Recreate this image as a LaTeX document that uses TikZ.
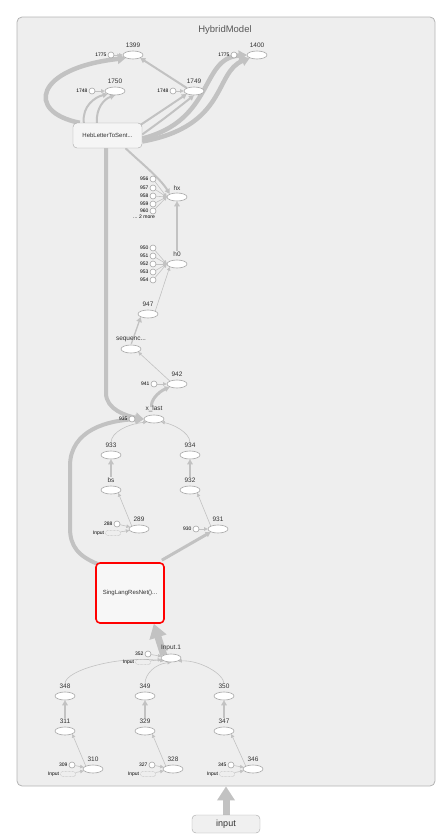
\documentclass[tikz,border=0pt]{standalone}
\usepackage{fontspec}
\setmainfont{Liberation Sans}
\usetikzlibrary{shapes.geometric,arrows.meta}
\pgfdeclarelayer{back}
\pgfdeclarelayer{edges}
\pgfsetlayers{back,edges,main}
\definecolor{grpfill}{HTML}{EEEEEE}
\definecolor{grpline}{HTML}{B4B4B4}
\definecolor{edgec}{HTML}{C2C2C2}
\definecolor{opline}{HTML}{A6A6A6}
\definecolor{txt}{HTML}{333333}
\tikzset{
  op/.style={ellipse,draw=opline,fill=white,line width=0.6pt,minimum width=20pt,minimum height=8pt,inner sep=0pt},
  lab/.style={font=\fontsize{6.5}{7}\selectfont,text=txt,inner sep=1pt,label distance=1.5pt},
  cst/.style={circle,draw=opline,fill=white,line width=0.6pt,minimum size=6pt,inner sep=0pt},
  clab/.style={font=\fontsize{5}{6}\selectfont,text=black,inner sep=1pt},
  refbox/.style={draw=opline,densely dotted,rounded corners=1.5pt,minimum width=15pt,minimum height=5pt,inner sep=0pt},
  meta/.style={draw=opline,fill=#1,rounded corners=4pt,font=\fontsize{6}{7}\selectfont,text=txt,inner sep=0pt},
  ed/.style={draw=edgec,line width=0.6pt,-{Triangle[length=3.5pt,width=3.5pt]}},
  med/.style={draw=edgec,line width=2pt,-{Triangle[length=5pt,width=5.5pt]}},
  thk/.style={draw=edgec,line width=4.5pt,-{Triangle[length=8pt,width=10pt]}},
  big/.style={draw=edgec,line width=7pt,-{Triangle[length=14pt,width=17pt]}}
}
\begin{document}
\begin{tikzpicture}[x=1pt,y=-1pt,line cap=round,line join=round]
  \useasboundingbox (0,0) rectangle (445,838);
  % group box
  \begin{pgfonlayer}{back}
    \node[draw=grpline,fill=grpfill,rounded corners=5pt,line width=0.8pt,minimum width=418pt,minimum height=769pt] (hm) at (226,401.5) {};
  \end{pgfonlayer}
  \node[font=\fontsize{9.5}{11}\selectfont,text=black!65] (hmt) at (225,30) {HybridModel};
  \node[meta=white!94!black,minimum width=68pt,minimum height=18pt,font=\fontsize{9}{10}\selectfont] (input) at (226,824) {input};

  % top block
  \node[op,label={[lab]above:1399}] (n1399) at (133,55) {};
  \node[op,label={[lab]above:1400}] (n1400) at (257,55) {};
  \node[op,label={[lab]above:1750}] (n1750) at (115,91) {};
  \node[op,label={[lab]above:1749}] (n1749) at (194,91) {};
  \node[cst,label={[clab]left:1775}] (c1775a) at (111,55) {};
  \node[cst,label={[clab]left:1775}] (c1775b) at (234,55) {};
  \node[cst,label={[clab]left:1748}] (c1748a) at (92,91) {};
  \node[cst,label={[clab]left:1748}] (c1748b) at (173,91) {};
  \node[meta=white!96!black,minimum width=69pt,minimum height=25pt] (heb) at (107.5,135.5) {HebLetterToSent...};

  % hx / h0
  \node[op,label={[lab]above:hx}] (hx) at (177,197) {};
  \foreach \k/\yy in {956/179,957/188,958/196,959/204,960/211}
    \node[cst,label={[clab]left:\k}] (c\k) at (153,\yy) {};
  \node[clab,anchor=east] (more) at (156,217) {... 2 more};
  \node[op,label={[lab]above:h0}] (h0) at (177,264) {};
  \foreach \k/\yy in {950/248,951/256,952/264,953/272,954/280}
    \node[cst,label={[clab]left:\k}] (c\k) at (153,\yy) {};
  \node[op,label={[lab]above:947}] (n947) at (148,314) {};
  \node[op,label={[lab]above:sequenc...}] (seq) at (131,349) {};
  \node[op,label={[lab]above:942}] (n942) at (177,384) {};
  \node[cst,label={[clab]left:941}] (c941) at (154,384) {};
  \node[op,label={[lab]above:x\_last}] (xlast) at (154,419) {};
  \node[cst,label={[clab]left:935}] (c935) at (132,419) {};

  % middle block
  \node[op,label={[lab]above:933}] (n933) at (111,455) {};
  \node[op,label={[lab]above:bs}] (bs) at (111,490) {};
  \node[op,label={[lab]above:289}] (n289) at (139,529) {};
  \node[cst,label={[clab]left:288}] (c288) at (117,524) {};
  \node[refbox,label={[clab]left:Input}] (r288) at (113,533) {};
  \node[op,label={[lab]above:934}] (n934) at (190,455) {};
  \node[op,label={[lab]above:932}] (n932) at (190,490) {};
  \node[op,label={[lab]above:931}] (n931) at (218,529) {};
  \node[cst,label={[clab]left:930}] (c930) at (196,529) {};
  \node[meta=white!97!black,draw=red,line width=1.6pt,minimum width=68pt,minimum height=60pt] (sing) at (130,593) {SingLangResNet()...};

  % bottom block
  \node[op,label={[lab]above:Input.1}] (inp1) at (171,658) {};
  \node[cst,label={[clab]left:352}] (c352) at (148,654) {};
  \node[refbox,label={[clab]left:Input}] (r352) at (143,662) {};
  \node[op,label={[lab]above:348}] (n348) at (65,696) {};
  \node[op,label={[lab]above:311}] (n311) at (65,731) {};
  \node[op,label={[lab]above:310}] (n310) at (93,769) {};
  \node[cst,label={[clab]left:309}] (c309) at (72,765) {};
  \node[refbox,label={[clab]left:Input}] (r309) at (68,774) {};
  \node[op,label={[lab]above:349}] (n349) at (145,696) {};
  \node[op,label={[lab]above:329}] (n329) at (145,731) {};
  \node[op,label={[lab]above:328}] (n328) at (173,769) {};
  \node[cst,label={[clab]left:327}] (c327) at (152,765) {};
  \node[refbox,label={[clab]left:Input}] (r327) at (148,774) {};
  \node[op,label={[lab]above:350}] (n350) at (224,696) {};
  \node[op,label={[lab]above:347}] (n347) at (224,731) {};
  \node[op,label={[lab]above:346}] (n346) at (253,769) {};
  \node[cst,label={[clab]left:345}] (c345) at (231,765) {};
  \node[refbox,label={[clab]left:Input}] (r345) at (227,774) {};

  \begin{pgfonlayer}{edges}
  % edges, top
  \draw[thk] ([xshift=7pt]heb.north west) .. controls (25,112) and (35,68) .. (n1399.south west);
  \draw[med] ([xshift=11pt]heb.north west) .. controls (82,106) and (95,97) .. (n1750.south west);
  \draw[med] ([xshift=24pt]heb.north west) .. controls (96,108) and (104,99) .. (n1750.south);
  \draw[med] ([xshift=-3pt,yshift=-3pt]heb.north east) -- (n1749.south west);
  \draw[med] ([yshift=1pt]heb.east) .. controls (165,118) .. (n1749.south);
  \draw[thk] ([yshift=-3pt]heb.east) .. controls (215,120) and (200,58) .. (n1400.west);
  \draw[thk] ([yshift=-6pt]heb.east) .. controls (228,126) and (214,72) .. (n1400.south west);
  \draw[med] (n1749.north west) -- (n1399.south east);
  \draw[ed] (c1775a) -- (n1399);
  \draw[ed] (c1775b) -- (n1400);
  \draw[ed] (c1748a) -- (n1750);
  \draw[ed] (c1748b) -- (n1749);

  % edges, hx to x_last
  \draw[med] ([xshift=18pt]heb.south) .. controls (140,162) and (160,178) .. (hx.north west);
  \foreach \k in {956,...,960} \draw[ed] (c\k) -- (hx.west);
  \foreach \k in {950,...,954} \draw[ed] (c\k) -- (h0.west);
  \draw[med,shorten <=9pt] (h0.north) -- (hx.south);
  \draw[ed] (n947.north east) -- (h0.south west);
  \draw[med,line width=1.3pt,shorten <=1pt] (seq.north) -- (n947.south west);
  \draw[ed] (n942.north west) -- (seq.south east);
  \draw[ed] (c941) -- (n942);
  \draw[med,line width=3pt,shorten <=8pt] (xlast.north) .. controls (150,401) and (158,392) .. (n942.south west);
  \draw[ed] (c935) -- (xlast);
  \draw[thk,line width=4pt] ([xshift=-1.5pt]heb.south) -- ++(0,245) .. controls +(0,16) and (126,416) .. (xlast.west);
  \draw[thk,line width=4pt] ([xshift=3pt,yshift=-2pt]sing.north west) .. controls (78,556) and (70,546) .. (70,528) -- (70,466) .. controls (70,430) and (108,420) .. (xlast.west);

  % edges, middle
  \draw[ed,shorten <=8pt] (n933.north) .. controls (111,432) and (128,424) .. (xlast.south west);
  \draw[ed,shorten <=8pt] (n934.north) .. controls (190,432) and (172,424) .. (xlast.south east);
  \draw[med,line width=1.6pt,shorten <=9pt] (bs.north) -- (n933.south);
  \draw[ed] (n289.north west) -- (bs.south east);
  \draw[ed] (c288) -- (n289);
  \draw[ed] (r288) -- (n289);
  \draw[med,line width=1.6pt,shorten <=9pt] (n932.north) -- (n934.south);
  \draw[ed] (n931.north west) -- (n932.south east);
  \draw[ed] (c930) -- (n931);
  \draw[med,line width=3pt] ([xshift=-3pt,yshift=2pt]sing.north east) -- (n931.south west);

  % edges, bottom
  \draw[big] (inp1.north west) -- ([xshift=-11pt]sing.south east);
  \draw[ed] (c352) -- (inp1);
  \draw[ed] (r352) -- (inp1);
  \draw[ed,shorten <=8pt] (n348.north) .. controls (65,670) and (120,655) .. (inp1.south west);
  \draw[ed,shorten <=8pt] (n349.north) .. controls (145,674) and (155,664) .. (inp1.south);
  \draw[ed,shorten <=8pt] (n350.north) .. controls (224,674) and (200,660) .. (inp1.south east);
  \draw[med,line width=1.6pt,shorten <=9pt] (n311.north) -- (n348.south);
  \draw[med,line width=1.6pt,shorten <=9pt] (n329.north) -- (n349.south);
  \draw[med,line width=1.6pt,shorten <=9pt] (n347.north) -- (n350.south);
  \draw[ed] (n310.north west) -- (n311.south east);
  \draw[ed] (n328.north west) -- (n329.south east);
  \draw[ed] (n346.north west) -- (n347.south east);
  \draw[ed] (c309) -- (n310);
  \draw[ed] (r309) -- (n310);
  \draw[ed] (c327) -- (n328);
  \draw[ed] (r327) -- (n328);
  \draw[ed] (c345) -- (n346);
  \draw[ed] (r345) -- (n346);

  % input into group
  \draw[big] (input.north) -- (input.north |- hm.south);
  \end{pgfonlayer}
\end{tikzpicture}
\end{document}
